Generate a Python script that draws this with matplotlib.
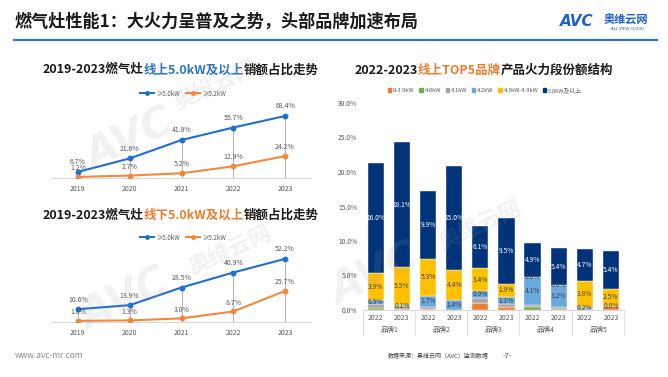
import matplotlib
matplotlib.use('Agg')
import matplotlib.pyplot as plt
from matplotlib.patches import Rectangle
from matplotlib.lines import Line2D

plt.rcParams['font.family'] = ['Noto Sans CJK SC', 'DejaVu Sans']

# ---------------- data ----------------
years = ['2019', '2020', '2021', '2022', '2023']
online_50 = [6.7, 21.6, 41.9, 55.7, 68.4]
online_52 = [1.2, 2.7, 5.2, 12.9, 24.2]
offline_50 = [10.6, 13.9, 28.5, 40.9, 52.2]
offline_52 = [1.0, 1.3, 3.0, 8.7, 25.7]
line_names = ['≥5.0kW', '≥5.2kW']

brands = ['品牌1', '品牌2', '品牌3', '品牌4', '品牌5']
bar_years = ['2022', '2023']
seg_names = ['0-3.9kW', '4.0kW', '4.1kW', '4.2kW', '4.3kW-4.9kW', '5.0kW及以上']
# 10 bars: brand1-2022, brand1-2023, brand2-2022, ...
seg_0_39 = [0.0, 0.0, 0.1, 0.0, 1.0, 0.5, 0.0, 0.0, 0.2, 0.6]
seg_40 = [0.3, 0.2, 0.0, 0.0, 0.0, 0.0, 0.4, 0.2, 0.0, 0.0]
seg_41 = [0.6, 0.4, 0.3, 0.0, 0.8, 0.3, 0.3, 0.2, 0.0, 0.0]
seg_42 = [0.5, 0.1, 1.7, 1.4, 0.9, 1.1, 4.1, 3.2, 0.2, 0.0]
seg_43_49 = [3.9, 5.5, 5.3, 4.4, 3.4, 1.9, 0.0, 0.0, 3.8, 2.5]
seg_50 = [16.0, 18.1, 9.9, 15.0, 6.1, 9.5, 4.9, 5.4, 4.7, 5.4]

# ---------------- style ----------------
BLUE = '#1f6fd0'
ORANGE = '#f0883e'
seg_colors = ['#ed7d31', '#70ad47', '#a5a5a5', '#6aa8e0', '#ffc000', '#00337a']
TXT = '#595959'

W, H = 668, 377
fig = plt.figure(figsize=(6.68, 3.77), dpi=100)
fig.patch.set_facecolor('white')


def fx(px):
    return px / W


def fy(py):
    return 1 - py / H


renderer = fig.canvas.get_renderer()


def multi_text(xc, y, parts, size, weight='bold'):
    texts, widths = [], []
    for s, c in parts:
        t = fig.text(0, fy(y), s, fontsize=size, fontweight=weight, color=c,
                     va='center', ha='left')
        widths.append(t.get_window_extent(renderer).width)
        texts.append(t)
    x = xc - sum(widths) / 2
    for t, w in zip(texts, widths):
        t.set_x(fx(x))
        x += w


# ---------------- header ----------------
fig.text(fx(15), fy(22), '燃气灶性能1：大火力呈普及之势，头部品牌加速布局',
         fontsize=12.3, fontweight='bold', color='#1a1a1a', va='center', ha='left')
fig.add_artist(Line2D([fx(14), fx(657)], [fy(40), fy(40)], color='#2e75c8', lw=1.6))
fig.text(fx(560), fy(21), 'AVC', fontsize=11, fontweight='bold', style='italic',
         color='#1f5fc8', va='center', ha='left', family='DejaVu Sans')
fig.text(fx(626), fy(20), '奥维云网', fontsize=8, fontweight='bold',
         color='#1f5fc8', va='center', ha='center')
fig.text(fx(628), fy(29.5), 'ALL VIEW CLOUD', fontsize=2.8,
         color='#1f5fc8', va='center', ha='center', family='DejaVu Sans')

# ---------------- footer ----------------
fig.text(fx(15), fy(356), 'www.avc-mr.com', fontsize=6, color='#8c8c8c',
         va='center', ha='left')
fig.text(fx(489), fy(356), '数据来源：奥维云网（AVC）监测数据', fontsize=4.3,
         color='#404040', va='center', ha='right')
fig.text(fx(507), fy(356), '-7-', fontsize=5.5, color='#404040',
         va='center', ha='center')


# ---------------- line charts ----------------
def line_chart(top_px, bottom_px, ymax, s50, s52, title_parts, title_y, legend_y):
    ax = fig.add_axes([fx(52), fy(bottom_px), fx(311) - fx(52), (bottom_px - top_px) / H])
    x = list(range(len(years)))
    ax.vlines(x, 0, s50, color='#a6a6a6', lw=0.6, zorder=1)
    ax.plot(x, s50, color=BLUE, lw=1.5, marker='o', ms=3.2, zorder=3)
    ax.plot(x, s52, color=ORANGE, lw=1.5, marker='o', ms=3.2, zorder=3)
    for xi, v in zip(x, s50):
        ax.annotate(f'{v:.1f}%', (xi, v), xytext=(0, 4), textcoords='offset points',
                    ha='center', va='bottom', fontsize=5, color=TXT)
    for xi, v in zip(x, s52):
        ax.annotate(f'{v:.1f}%', (xi, v), xytext=(0, 3.5), textcoords='offset points',
                    ha='center', va='bottom', fontsize=5, color=TXT)
    ax.set_xlim(-0.5, 4.5)
    ax.set_ylim(0, ymax)
    ax.set_xticks(x)
    ax.set_xticklabels(years, fontsize=5, color=TXT)
    ax.tick_params(axis='x', length=0, pad=5)
    ax.set_yticks([])
    for s in ['top', 'right', 'left']:
        ax.spines[s].set_visible(False)
    ax.spines['bottom'].set_color('#d9d9d9')
    ax.spines['bottom'].set_linewidth(0.8)
    ax.patch.set_alpha(0)
    multi_text(181, title_y, title_parts, 9)
    handles = [Line2D([], [], color=BLUE, lw=1.5, marker='o', ms=2.5),
               Line2D([], [], color=ORANGE, lw=1.5, marker='o', ms=2.5)]
    fig.legend(handles, line_names, loc='center', bbox_to_anchor=(fx(183), fy(legend_y)),
               ncol=2, frameon=False, fontsize=4.5, handlelength=2.2,
               handletextpad=0.4, columnspacing=1.0, labelcolor=TXT)
    return ax


line_chart(105.5, 178, 80, online_50, online_52,
           [('2019-2023燃气灶', '#1a1a1a'), ('线上5.0kW及以上', '#2e75c8'),
            ('销额占比走势', '#1a1a1a')], 70, 93.5)
line_chart(249.4, 322, 60, offline_50, offline_52,
           [('2019-2023燃气灶', '#1a1a1a'), ('线下5.0kW及以上', '#ed7d31'),
            ('销额占比走势', '#1a1a1a')], 215, 237.5)

# ---------------- stacked bar chart ----------------
axb = fig.add_axes([fx(362.7), fy(310), fx(624) - fx(362.7), (310 - 103) / H])
series = [seg_0_39, seg_40, seg_41, seg_42, seg_43_49, seg_50]
xpos = list(range(len(seg_50)))
bottom = [0.0] * len(seg_50)
label_colors = {3: '#404040', 4: '#404040', 5: 'white'}
for i, (vals, col) in enumerate(zip(series, seg_colors)):
    axb.bar(xpos, vals, bottom=bottom, width=0.62, color=col,
            edgecolor='white', linewidth=0.3, zorder=2)
    if i in label_colors:
        for xi, v, b in zip(xpos, vals, bottom):
            axb.text(xi, b + v / 2, f'{v:.1f}%', ha='center', va='center',
                     fontsize=4.8, color=label_colors[i], zorder=4)
    bottom = [b + v for b, v in zip(bottom, vals)]

axb.set_xlim(-0.5, len(seg_50) - 0.5)
axb.set_ylim(0, 30)
axb.set_yticks([0, 5, 10, 15, 20, 25, 30])
axb.set_yticklabels([f'{t:.1f}%' for t in [0, 5, 10, 15, 20, 25, 30]],
                    fontsize=4.8, color=TXT)
axb.tick_params(axis='y', length=0, pad=4)
axb.set_xticks([])
for s in ['top', 'right', 'left']:
    axb.spines[s].set_visible(False)
axb.spines['bottom'].set_color('#d9d9d9')
axb.spines['bottom'].set_linewidth(0.8)
axb.patch.set_alpha(0)
tr = axb.get_xaxis_transform()
ph = 310 - 103
for k in range(len(brands) + 1):
    xs = -0.5 + 2 * k
    axb.plot([xs, xs], [0, -25 / ph], transform=tr, color='#d9d9d9', lw=0.6,
             clip_on=False)
for xi in xpos:
    axb.text(xi, -8.5 / ph, bar_years[xi % 2], transform=tr, ha='center', va='center',
             fontsize=5, color=TXT)
for k, b in enumerate(brands):
    axb.text(2 * k + 0.5, -19.5 / ph, b, transform=tr, ha='center', va='center',
             fontsize=5, color=TXT)

multi_text(484, 70.5, [('2022-2023', '#1a1a1a'), ('线上TOP5品牌', '#ed7d31'),
                       ('产品火力段份额结构', '#1a1a1a')], 9)
handles = [Rectangle((0, 0), 1, 1, color=c) for c in seg_colors]
fig.legend(handles, seg_names, loc='center', bbox_to_anchor=(fx(485), fy(90)),
           ncol=6, frameon=False, fontsize=4.2, handlelength=0.6, handleheight=0.6,
           handletextpad=0.3, columnspacing=0.8, labelcolor=TXT)

# ---------------- watermarks ----------------
for (ax_, ay_, bx_, by_) in [(130, 140, 215, 85), (125, 300, 230, 250), (375, 275, 480, 225)]:
    fig.text(fx(ax_), fy(ay_), 'AVC', fontsize=30, fontweight='bold', style='italic',
             color='#9a9a9a', alpha=0.14, rotation=25, ha='center', va='center',
             family='DejaVu Sans', zorder=10)
    fig.text(fx(bx_), fy(by_), '奥维云网', fontsize=16, fontweight='bold',
             color='#9a9a9a', alpha=0.14, rotation=25, ha='center', va='center', zorder=10)

fig.savefig('out.png', dpi=100)
